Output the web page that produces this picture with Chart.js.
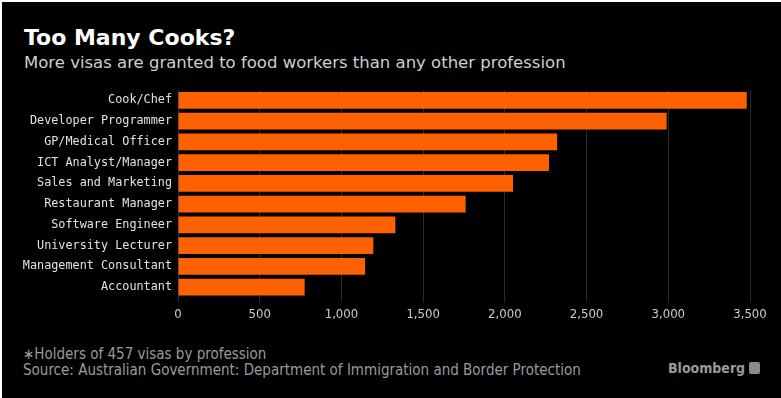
<!DOCTYPE html>
<html>
<head>
<meta charset="utf-8">
<script src="https://cdn.jsdelivr.net/npm/chart.js@4.4.1/dist/chart.umd.min.js"></script>
<style>
  html, body { margin: 0; padding: 0; background: #ffffff; }
  #frame { position: absolute; left: 2px; top: 2px; width: 779px; height: 396px; background: #000; overflow: hidden; }
  .t { position: absolute; white-space: nowrap; }
  #title { left: 22px; top: 23px; font: bold 22px "DejaVu Sans", sans-serif; color: #ffffff; line-height: 26px; }
  #sub { left: 22px; top: 51px; font: 16.5px "DejaVu Sans", sans-serif; color: #cfcfcf; line-height: 19px; }
  #note { left: 21px; top: 344px; font: 15px "DejaVu Sans Condensed", "DejaVu Sans", sans-serif; font-stretch: condensed; color: #9a9a9a; line-height: 16px; }
  #src { left: 21px; top: 360px; font: 15px "DejaVu Sans Condensed", "DejaVu Sans", sans-serif; font-stretch: condensed; color: #9a9a9a; line-height: 16px; }
  #logo { left: 666px; top: 358px; font: bold 14px "DejaVu Sans Condensed", "DejaVu Sans", sans-serif; font-stretch: condensed; color: #9a9a9a; line-height: 16px; }
  #logo span { display: inline-block; width: 11px; height: 12px; background: #8a8a8a; border-radius: 2px; margin-left: 4px; vertical-align: -1px; }
  #wrap { position: absolute; left: -2px; top: 72px; width: 781px; height: 252px; }
</style>
</head>
<body>
<div id="frame">
  <div class="t" id="title">Too Many Cooks?</div>
  <div class="t" id="sub">More visas are granted to food workers than any other profession</div>
  <div class="t" id="note">∗Holders of 457 visas by profession</div>
  <div class="t" id="src">Source: Australian Government: Department of Immigration and Border Protection</div>
  <div class="t" id="logo">Bloomberg<span></span></div>
  <div id="wrap"><canvas id="c" width="781" height="252"></canvas></div>
</div>
<script>
const categories = [
  "Cook/Chef",
  "Developer Programmer",
  "GP/Medical Officer",
  "ICT Analyst/Manager",
  "Sales and Marketing",
  "Restaurant Manager",
  "Software Engineer",
  "University Lecturer",
  "Management Consultant",
  "Accountant"
];
const visaHolders = [3480, 2990, 2320, 2270, 2050, 1760, 1330, 1195, 1145, 775];
const xTickValues = [0, 500, 1000, 1500, 2000, 2500, 3000, 3500];

const ctx = document.getElementById('c');
new Chart(ctx, {
  type: 'bar',
  data: {
    labels: categories,
    datasets: [{
      data: visaHolders,
      backgroundColor: '#ff6000',
      borderWidth: 0,
      barPercentage: 0.81,
      categoryPercentage: 1.0
    }]
  },
  options: {
    indexAxis: 'y',
    responsive: false,
    animation: false,
    devicePixelRatio: 1,
    layout: { padding: { top: 16, right: 31, left: 0, bottom: 0 } },
    plugins: { legend: { display: false }, tooltip: { enabled: false } },
    scales: {
      x: {
        min: 0,
        max: 3500,
        afterBuildTicks: (s) => { s.ticks = xTickValues.map(v => ({ value: v })); },
        grid: { color: '#2b2b2b', lineWidth: 1, drawTicks: true, tickLength: 5, tickColor: '#2b2b2b' },
        border: { display: false },
        ticks: {
          color: '#cccccc',
          padding: 4,
          maxRotation: 0,
          font: { family: '"DejaVu Sans Condensed", "DejaVu Sans", sans-serif', size: 13 },
          callback: (v) => Number(v).toLocaleString('en-US')
        }
      },
      y: {
        grid: { display: false, drawTicks: false },
        border: { display: false },
        afterFit: (s) => { s.width = 178; },
        ticks: {
          color: '#e2e2e2',
          padding: 6,
          font: { family: '"DejaVu Sans Mono", monospace', size: 11.8 }
        }
      }
    }
  }
});
</script>
</body>
</html>
